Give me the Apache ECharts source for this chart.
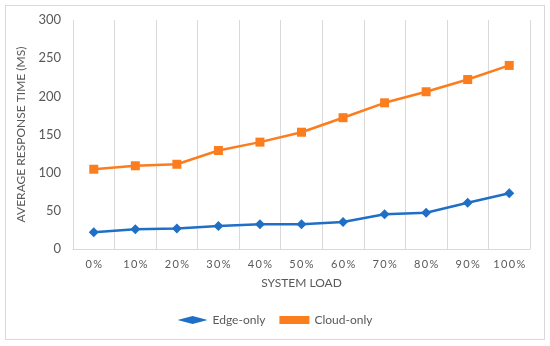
<!DOCTYPE html>
<html><head><meta charset="utf-8">
<script src="https://cdn.jsdelivr.net/npm/echarts@6/dist/echarts.min.js"></script>
<style>html,body{margin:0;padding:0;background:#fff}#c{width:550px;height:346px}
#frame{position:absolute;left:5px;top:5px;width:538px;height:333px;border:1px solid #d9d9d9;pointer-events:none}</style>
</head><body><div id="c"></div><div id="frame"></div>
<script>
const categories = ['0%','10%','20%','30%','40%','50%','60%','70%','80%','90%','100%'];
const edgeOnly = [22, 26, 27, 30, 32.5, 32.5, 35.5, 45.5, 47.5, 60.5, 73];
const cloudOnly = [104.5, 109, 111, 129, 140, 153, 172, 191.5, 206, 222, 240.5];
const yTicks = [0, 50, 100, 150, 200, 250, 300];
const F = 'Lato, "Noto Sans", sans-serif';
const chart = echarts.init(document.getElementById('c'));
chart.setOption({
  animation: false,
  grid: {left: 73, right: 20, top: 20, bottom: 97},
  legend: {
    bottom: 15, left: 'center', itemWidth: 30, itemHeight: 8, itemGap: 14,
    textStyle: {color: '#595959', fontFamily: F, fontSize: 12},
    data: [{name: 'Edge-only', icon: 'diamond'}, {name: 'Cloud-only', icon: 'rect'}]
  },
  xAxis: {
    type: 'category', data: categories, boundaryGap: true,
    name: 'SYSTEM LOAD', nameLocation: 'middle', nameGap: 28,
    nameTextStyle: {color: '#595959', fontFamily: F, fontSize: 12},
    axisLine: {lineStyle: {color: '#d9d9d9'}},
    axisTick: {show: false, interval: 0},
    splitLine: {show: true, interval: 0, lineStyle: {color: '#d9d9d9'}},
    axisLabel: {color: '#595959', fontFamily: F, fontSize: 11, margin: 10, interval: 0,
      hideOverlap: false, formatter: v => v.split('').join('\u2009')}
  },
  yAxis: {
    type: 'value', min: yTicks[0], max: yTicks[yTicks.length-1], interval: 50,
    name: 'AVERAGE RESPONSE TIME (MS)', nameLocation: 'middle', nameGap: 40,
    nameTextStyle: {color: '#595959', fontFamily: F, fontSize: 12},
    axisLine: {show: false}, axisTick: {show: false}, splitLine: {show: false},
    axisLabel: {color: '#595959', fontFamily: F, fontSize: 13, margin: 12}
  },
  series: [
    {name: 'Edge-only', type: 'line', data: edgeOnly, symbol: 'diamond', symbolSize: 10,
     lineStyle: {color: '#1f6fc6', width: 2.5}, itemStyle: {color: '#1f6fc6'}},
    {name: 'Cloud-only', type: 'line', data: cloudOnly, symbol: 'rect', symbolSize: 9,
     lineStyle: {color: '#fb7d1e', width: 2.5}, itemStyle: {color: '#fb7d1e'}}
  ]
});
</script></body></html>
